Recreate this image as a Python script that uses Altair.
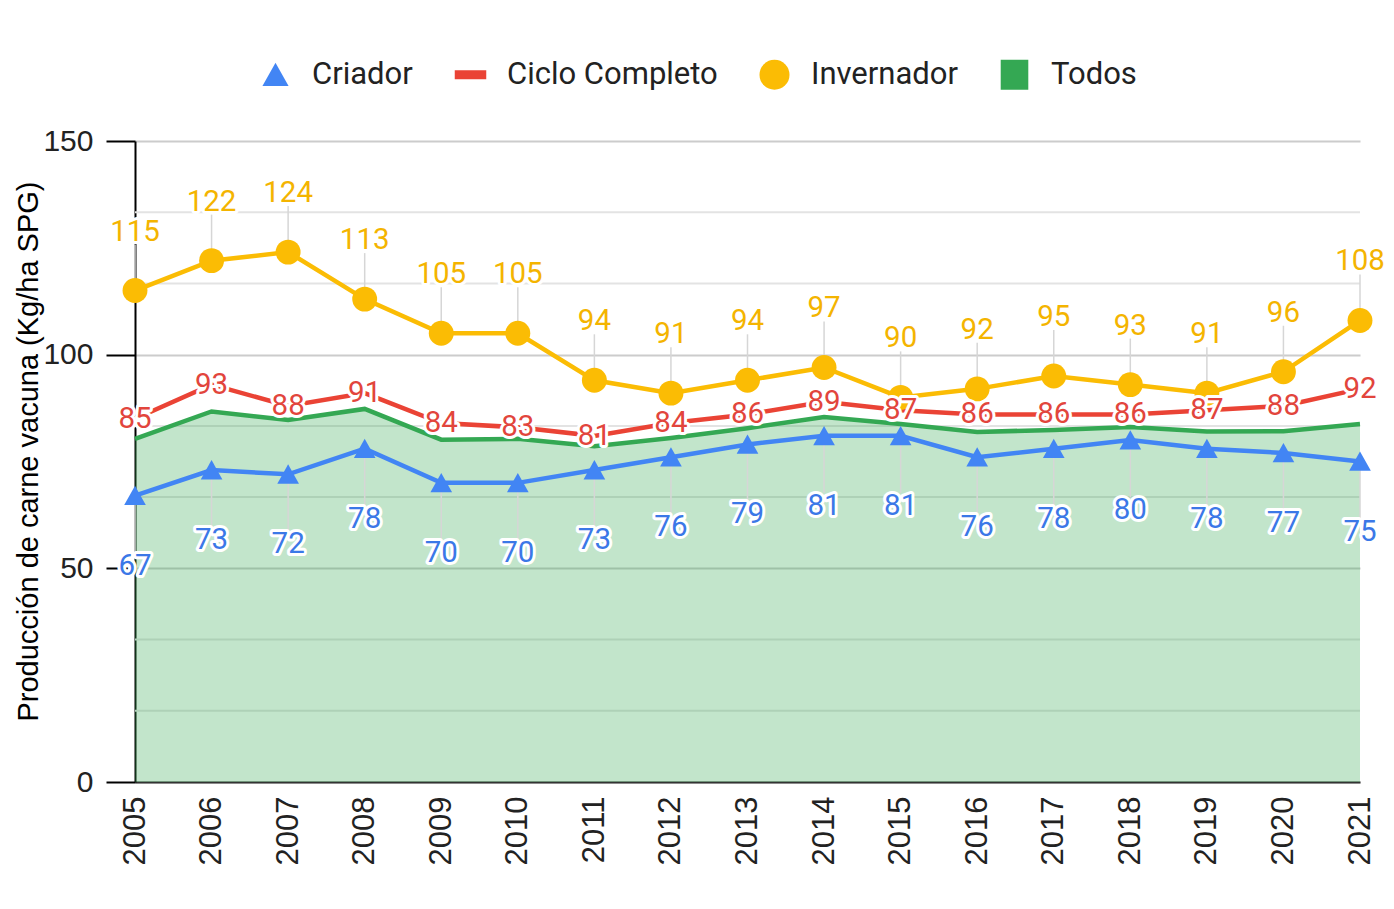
import altair as alt
import pandas as pd

years = [2005, 2006, 2007, 2008, 2009, 2010, 2011, 2012, 2013,
         2014, 2015, 2016, 2017, 2018, 2019, 2020, 2021]
criador = [67, 73, 72, 78, 70, 70, 73, 76, 79, 81, 81, 76, 78, 80, 78, 77, 75]
ciclo = [85, 93, 88, 91, 84, 83, 81, 84, 86, 89, 87, 86, 86, 86, 87, 88, 92]
invernador = [115, 122, 124, 113, 105, 105, 94, 91, 94, 97, 90, 92, 95, 93, 91, 96, 108]
todos = [80.3, 86.7, 84.7, 87.3, 80.1, 80.3, 78.6, 80.5, 82.8, 85.4, 83.8, 81.9,
         82.4, 83.1, 82.0, 82.1, 83.8]

series_names = ["Criador", "Ciclo Completo", "Invernador", "Todos"]
series_colors = ["#4285f4", "#ea4335", "#fbbc04", "#34a853"]
series_shapes = ["M0,-0.8L0.87,0.75L-0.87,0.75Z",
                 "M-1.05,-0.3H1.05V0.3H-1.05Z",
                 "circle",
                 "M-0.92,-1H0.92V1H-0.92Z"]
major_ticks = [0, 50, 100, 150]
minor_ticks = [16.667, 33.333, 66.667, 83.333, 116.667, 133.333]
y_title = "Producción de carne vacuna (Kg/ha SPG)"

rows = []
for name, vals in zip(series_names, [criador, ciclo, invernador, todos]):
    for yr, v in zip(years, vals):
        rows.append({"year": yr, "series": name, "value": v})
df = pd.DataFrame(rows)
grid_df = pd.DataFrame({"value": minor_ticks})

x_axis = alt.Axis(title=None, labelAngle=270, labelAlign="right", labelBaseline="middle",
                  labelFont="Liberation Sans", labelFontSize=31, labelColor="#222222",
                  ticks=False, domainColor="#333333", domainWidth=2, labelPadding=14,
                  grid=False)
y_axis = alt.Axis(values=major_ticks, title=y_title, titleFont="Liberation Sans",
                  titleFontSize=29, titleFontWeight="normal", titleColor="#000000",
                  titleX=-107, titleY=310, titleAngle=270, titleBaseline="middle",
                  titleAlign="center",
                  labelFont="Liberation Sans", labelFontSize=30, labelColor="#222222",
                  tickColor="#000000", tickSize=29, tickWidth=2,
                  domainColor="#000000", domainWidth=2, gridColor="#cccccc",
                  gridWidth=2, labelPadding=13)

X = alt.X("year:O", scale=alt.Scale(type="point", padding=0), axis=x_axis)
Y = alt.Y("value:Q", scale=alt.Scale(domain=[0, 150], nice=False), axis=y_axis)

base = alt.Chart(df)

minor_grid = alt.Chart(grid_df).mark_rule(color="#e3e3e3", strokeWidth=2).encode(y=Y)

area = base.transform_filter(alt.datum.series == "Todos").mark_area(
    color="#34a853", opacity=0.3).encode(x=X, y=Y)

def line(name, color):
    return base.transform_filter(alt.datum.series == name).mark_line(
        color=color, strokeWidth=4.5).encode(x=X, y=Y)

def leader(name, y_off):
    return base.transform_filter(alt.datum.series == name).mark_rule(
        color="#d6d6d6", strokeWidth=1.5, y2Offset=y_off).encode(
        x=X, y=Y, y2="value:Q")

legend_def = dict(orient="none", legendX=125, legendY=-82,
                  direction="horizontal", title=None,
                  labelFont="Roboto", labelFontSize=31,
                  labelColor="#222222", symbolSize=900,
                  labelOffset=21, columnPadding=41,
                  labelLimit=600, symbolStrokeWidth=0,
                  padding=0)

points = base.transform_filter(
    (alt.datum.series == "Criador") | (alt.datum.series == "Invernador")
).mark_point(filled=True, size=620, opacity=1, strokeWidth=0).encode(
    x=X, y=Y,
    color=alt.Color("series:N", scale=alt.Scale(domain=series_names, range=series_colors),
                    legend=alt.Legend(**legend_def)),
    shape=alt.Shape("series:N", scale=alt.Scale(domain=series_names, range=series_shapes),
                    legend=alt.Legend(**legend_def)),
)

def labels(name, color, dy):
    sub = base.transform_filter(alt.datum.series == name)
    halo = sub.mark_text(font="Roboto", fontSize=29.5, dy=dy, baseline="middle",
                         stroke="white", strokeWidth=6, strokeJoin="round",
                         fill="white").encode(x=X, y=Y, text="value:Q")
    txt = sub.mark_text(font="Roboto", fontSize=29.5, dy=dy, baseline="middle",
                        fill=color).encode(x=X, y=Y, text="value:Q")
    return halo + txt

chart = alt.layer(
    minor_grid,
    area,
    leader("Invernador", -46),
    leader("Criador", 57),
    line("Todos", "#34a853"),
    line("Ciclo Completo", "#ea4335"),
    line("Criador", "#4285f4"),
    line("Invernador", "#fbbc04"),
    points,
    labels("Ciclo Completo", "#e2453c", 0),
    labels("Criador", "#3b78e7", 70),
    labels("Invernador", "#f4b400", -59),
).properties(
    width=1225, height=641,
    autosize=alt.AutoSizeParams(type="none"),
    padding={"left": 127, "top": 133, "right": 26, "bottom": 119},
    background="white",
).configure_view(stroke=None)

chart.save("out.html", embed_options={"renderer": "svg", "actions": False})
